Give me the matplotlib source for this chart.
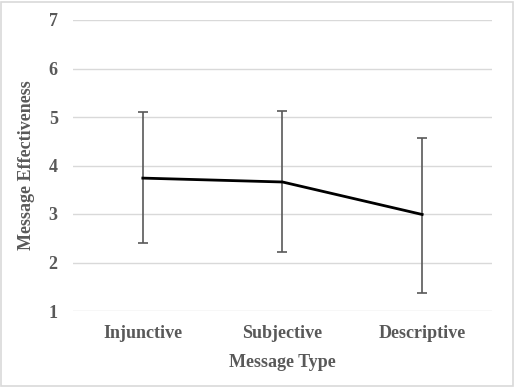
import matplotlib
matplotlib.use("Agg")
import matplotlib.pyplot as plt
from matplotlib.patches import Rectangle

categories = ["Injunctive", "Subjective", "Descriptive"]
means = [3.74, 3.66, 2.99]
upper = [5.10, 5.12, 4.57]
lower = [2.41, 2.22, 1.38]
yticks = [1, 2, 3, 4, 5, 6, 7]

W, H = 514, 387
fig = plt.figure(figsize=(W/100, H/100), dpi=100)
ax = fig.add_axes([73/W, 1-311/H, (492-73)/W, (311-20)/H])

x = list(range(len(categories)))
yerr = [[m - l for m, l in zip(means, lower)], [u - m for m, u in zip(means, upper)]]
ax.errorbar(x, means, yerr=yerr, fmt="none", ecolor="#595959", elinewidth=1.2,
            capsize=3.5, capthick=1.2, zorder=2)
ax.plot(x, means, color="black", lw=2.0, zorder=3)

ax.set_xlim(-0.5, 2.5)
ax.set_ylim(1, 7)
ax.set_yticks(yticks)
ax.grid(axis="y", color="#d9d9d9", lw=1.0)
ax.set_axisbelow(True)
for s in ax.spines.values():
    s.set_visible(False)
ax.tick_params(length=0, colors="#595959", labelsize=13)
ax.tick_params(axis="y", pad=11)
ax.tick_params(axis="x", pad=10)
ax.set_xticks(x)
ax.set_xticklabels(categories)
for lab in ax.get_xticklabels() + ax.get_yticklabels():
    lab.set_fontfamily("Liberation Serif")
    lab.set_fontweight("bold")
ax.set_xlabel("Message Type", fontfamily="Liberation Serif", fontweight="bold",
              fontsize=13, color="#595959", labelpad=9)
ax.set_ylabel("Message Effectiveness", fontfamily="Liberation Serif", fontweight="bold",
              fontsize=13, color="#595959", labelpad=10)

fig.patches.append(Rectangle((1/W, 1/H), 1-2.5/W, 1-2.5/H, transform=fig.transFigure,
                             fill=False, edgecolor="#d9d9d9", lw=1.2))
fig.savefig("out.png", dpi=100)
